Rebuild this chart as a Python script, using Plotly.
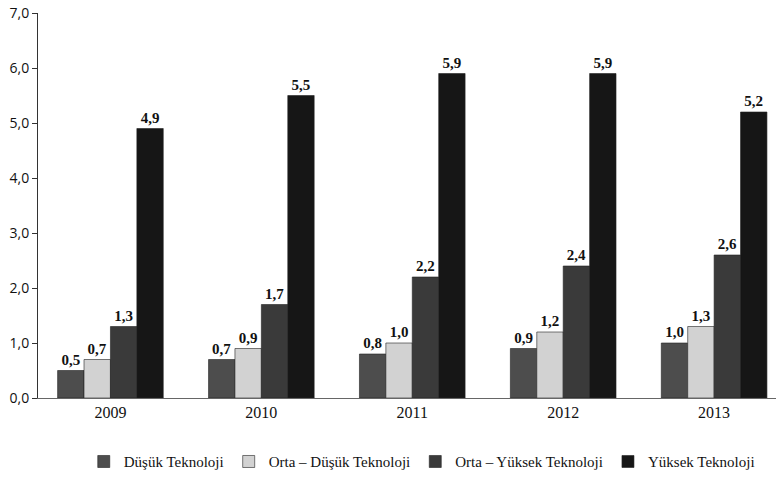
import plotly.graph_objects as go

years = ["2009", "2010", "2011", "2012", "2013"]
dusuk = [0.5, 0.7, 0.8, 0.9, 1.0]
orta_dusuk = [0.7, 0.9, 1.0, 1.2, 1.3]
orta_yuksek = [1.3, 1.7, 2.2, 2.4, 2.6]
yuksek = [4.9, 5.5, 5.9, 5.9, 5.2]

series = [
    ("Düşük Teknoloji", dusuk, "#4d4d4d"),
    ("Orta – Düşük Teknoloji", orta_dusuk, "#d2d2d2"),
    ("Orta – Yüksek Teknoloji", orta_yuksek, "#3a3a3a"),
    ("Yüksek Teknoloji", yuksek, "#161616"),
]

x = list(range(len(years)))
fig = go.Figure()
for name, vals, col in series:
    fig.add_trace(go.Bar(
        x=x, y=vals, name=name,
        marker=dict(color=col, line=dict(color="#222", width=0.6)),
        text=["<b>" + f"{v:.1f}".replace(".", ",") + "</b>" for v in vals],
        textposition="outside", cliponaxis=False,
        textfont=dict(family="Liberation Serif", size=15, color="#111"),
    ))

fig.update_layout(
    width=776, height=477,
    margin=dict(l=38, r=0, t=13, b=79, autoexpand=False),
    paper_bgcolor="white", plot_bgcolor="white",
    barmode="group", bargap=0.3, bargroupgap=0,
    showlegend=True,
    legend=dict(orientation="h", x=0.52, xanchor="center",
                yref="container", y=0.032, yanchor="middle",
                font=dict(family="Liberation Serif", size=15, color="#111"),
                itemwidth=30, tracegroupgap=0),
    xaxis=dict(tickmode="array", tickvals=x, ticktext=years, range=[-0.48, 4.41],
               showline=True, linecolor="#666", linewidth=1, showgrid=False,
               ticks="", tickfont=dict(family="Liberation Serif", size=16, color="#111")),
    yaxis=dict(range=[0, 7], tickvals=[0, 1, 2, 3, 4, 5, 6, 7],
               ticktext=["0,0", "1,0", "2,0", "3,0", "4,0", "5,0", "6,0", "7,0"],
               showline=True, linecolor="#333", linewidth=1, showgrid=False,
               ticks="outside", ticklen=5, tickcolor="#333", zeroline=False,
               tickfont=dict(family="Open Sans", size=14, color="#111")),
)

fig.write_html("out.html", config={"displayModeBar": False},
               post_script="document.body.style.margin='0';")
